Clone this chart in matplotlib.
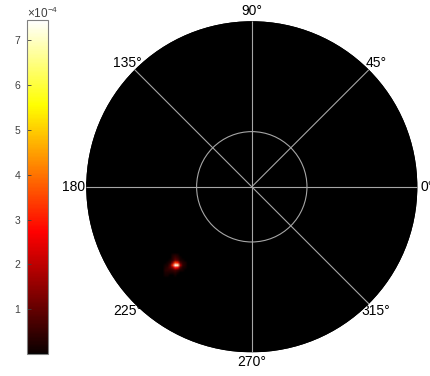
import numpy as np
import matplotlib
matplotlib.use('Agg')
import matplotlib.pyplot as plt
from matplotlib.patches import Circle
from matplotlib.colors import ListedColormap

plt.rcParams['font.family'] = ['Liberation Sans', 'DejaVu Sans']
plt.rcParams['mathtext.fontset'] = 'custom'
plt.rcParams['mathtext.rm'] = 'Liberation Sans'

#%% data (intensity in units of 1e-4)

angle_labels = ['0°', '45°', '90°', '135°', '180°', '225°', '270°', '315°']
angles_deg = [0, 45, 90, 135, 180, 225, 270, 315]
spoke_angles = [0, 45, 90, 135, 180, 270, 315]   # no spoke towards 225
ring_radii = [1.0 / 3.0]
cbar_ticks = [1, 2, 3, 4, 5, 6, 7]
vmax = 7.45

# location of the bright spot (normalised radius units)
spot_x = -0.476
spot_y = -0.473

# spot patch, rows from top (higher y) to bottom
spot_patch = np.array([
    [0.0, 0.0, 0.0, 0.2, 0.3, 0.2, 0.0, 0.0, 0.0],
    [0.0, 0.0, 0.0, 0.3, 0.6, 0.4, 0.1, 0.0, 0.0],
    [0.0, 0.0, 0.1, 0.4, 1.0, 0.8, 0.2, 0.1, 0.0],
    [0.0, 0.1, 0.3, 1.4, 3.4, 3.0, 0.8, 0.3, 0.2],
    [0.1, 0.2, 0.8, 3.2, 7.4, 7.0, 1.8, 0.4, 0.2],
    [0.2, 0.4, 0.8, 1.4, 2.8, 2.4, 0.7, 0.2, 0.1],
    [0.3, 0.4, 0.4, 0.5, 0.7, 0.5, 0.2, 0.1, 0.0],
    [0.2, 0.2, 0.2, 0.2, 0.3, 0.1, 0.0, 0.0, 0.0],
    [0.1, 0.1, 0.0, 0.0, 0.1, 0.0, 0.0, 0.0, 0.0],
])

#%% build image

N = 132
img = np.zeros((N, N))
col = int(round((spot_x + 1) / 2 * N))
row = int(round((1 - spot_y) / 2 * N))   # row 0 is the top
h = spot_patch.shape[0] // 2
img[row - h:row + h + 1, col - h:col + h + 1] = spot_patch
img = img * 1e-4

# hot colormap starting from pure black
hot = plt.get_cmap('hot')(np.linspace(0, 1, 256))
hot[0, :3] = 0.0
cmap = ListedColormap(hot)

#%% plot

fig = plt.figure(figsize=(4.3, 3.76), dpi=100, facecolor='white')
ax = fig.add_axes([0.1544, 0.0101, 0.8623, 0.9862])
ax.set_xlim(-1.12, 1.12)
ax.set_ylim(-1.12, 1.12)
ax.axis('off')

disk = Circle((0, 0), 1.0, facecolor='black', edgecolor='none', zorder=2)
ax.add_patch(disk)

im = ax.imshow(img, cmap=cmap, vmin=0, vmax=vmax * 1e-4, extent=[-1, 1, -1, 1],
               origin='upper', interpolation='bilinear', zorder=3)
im.set_clip_path(disk)

grid_col = '#a6a6a6'
for a in spoke_angles:
    t = np.deg2rad(a)
    ax.plot([0, np.cos(t)], [0, np.sin(t)], color=grid_col, lw=0.8, zorder=4,
            solid_capstyle='butt')
for r in ring_radii:
    ax.add_patch(Circle((0, 0), r, facecolor='none', edgecolor=grid_col,
                        lw=0.8, zorder=4))

for a, lab in zip(angles_deg, angle_labels):
    t = np.deg2rad(a)
    ax.text(1.06 * np.cos(t), 1.06 * np.sin(t), lab, fontsize=10,
            ha='center', va='center', zorder=1, clip_on=False)

cax = fig.add_axes([27 / 430, 22 / 376, 20.5 / 430, 334 / 376])
cb = fig.colorbar(im, cax=cax, orientation='vertical')
cb.set_ticks([v * 1e-4 for v in cbar_ticks])
cb.set_ticklabels([str(v) for v in cbar_ticks])
cax.yaxis.set_ticks_position('left')
cax.yaxis.set_label_position('left')
cax.tick_params(direction='in', length=3, width=0.6, labelsize=7.5,
                colors='#404040', pad=5)
cb.outline.set_edgecolor('#808080')
cb.outline.set_linewidth(0.8)
fig.text(27 / 430, 1 - 18 / 376, r'$\mathregular{\times10^{-4}}$', fontsize=8.5,
         color='#404040', ha='left', va='baseline')

plt.savefig('out.png', dpi=100, facecolor='white')
